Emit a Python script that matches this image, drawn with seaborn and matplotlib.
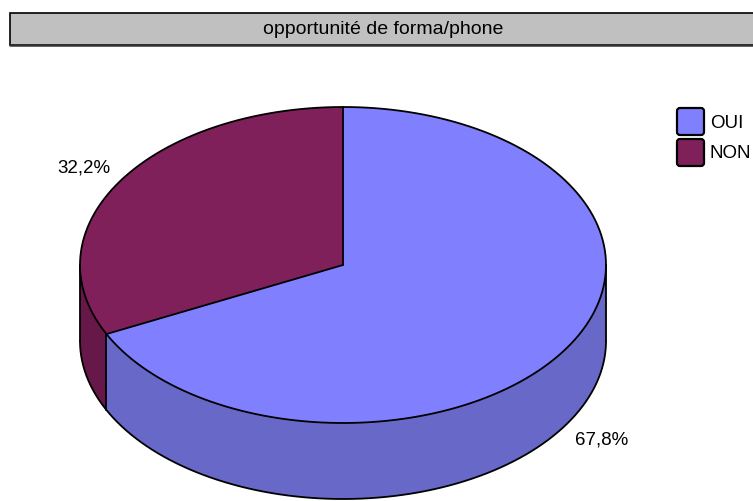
import numpy as np
import matplotlib
matplotlib.use("Agg")
import matplotlib.pyplot as plt
from matplotlib.patches import Polygon, Rectangle, FancyBboxPatch
import seaborn as sns

# donnees
title = "opportunité de forma/phone"
categories = ["OUI", "NON"]
shares = [67.8, 32.2]
labels = ["67,8%", "32,2%"]
top_colors = ["#8080ff", "#80205a"]
side_colors = ["#6868c8", "#661848"]

sns.set_style("white")
plt.rcParams["font.family"] = ["Liberation Sans", "DejaVu Sans"]
plt.rcParams["text.color"] = "black"

W, H = 753, 502
fig = plt.figure(figsize=(W / 100, H / 100), dpi=100)
ax = fig.add_axes([0, 0, 1, 1])
ax.set_xlim(0, W)
ax.set_ylim(H, 0)
ax.axis("off")

# geometrie du camembert 3D (en pixels)
cx, cy, rx, ry, depth = 343, 266, 263, 158, 76
lw = 1.3


def arc(t0, t1, dy=0, n=200):
    t = np.radians(np.linspace(t0, t1, n))
    return np.column_stack([cx + rx * np.cos(t), cy - ry * np.sin(t) + dy])


# angles des parts : NON part de 12h vers la gauche, puis OUI
bounds = {}
start = 90.0
for cat, s in zip(["NON", "OUI"], [shares[1], shares[0]]):
    bounds[cat] = (start, start + 3.6 * s)
    start += 3.6 * s

# faces laterales (moitie avant, 180-360)
for cat in ["NON", "OUI"]:
    a0, a1 = bounds[cat]
    i = categories.index(cat)
    lo, hi = max(a0, 180), min(a1, 360)
    if hi > lo:
        top = arc(lo, hi)
        bot = arc(hi, lo, dy=depth)
        ax.add_patch(Polygon(np.vstack([top, bot]), closed=True,
                             facecolor=side_colors[i], edgecolor="none"))

# faces superieures
for cat in ["NON", "OUI"]:
    a0, a1 = bounds[cat]
    i = categories.index(cat)
    pts = np.vstack([[cx, cy], arc(a0, a1)])
    ax.add_patch(Polygon(pts, closed=True, facecolor=top_colors[i],
                         edgecolor="none"))

# contours
e = arc(0, 360, n=400)
ax.plot(e[:, 0], e[:, 1], color="black", lw=lw)
b = arc(180, 360, dy=depth)
ax.plot(b[:, 0], b[:, 1], color="black", lw=lw)
for t in [180, 360]:
    p = arc(t, t, n=1)[0]
    ax.plot([p[0], p[0]], [p[1], p[1] + depth], color="black", lw=lw)
for cat in ["NON", "OUI"]:
    a0, a1 = bounds[cat]
    p = arc(a0, a0, n=1)[0]
    ax.plot([cx, p[0]], [cy, p[1]], color="black", lw=lw)
    t = a0 % 360
    if 180 < t < 360:
        ax.plot([p[0], p[0]], [p[1], p[1] + depth], color="black", lw=lw)

# etiquettes de pourcentage
for cat in ["NON", "OUI"]:
    a0, a1 = bounds[cat]
    i = categories.index(cat)
    m = np.radians((a0 + a1) / 2)
    x = cx + 1.16 * rx * np.cos(m)
    y = cy - 1.17 * ry * np.sin(m)
    if np.sin(m) < 0:
        y += depth
    ax.text(x, y, labels[i], ha="center", va="center", fontsize=13.5,
            color="black")

# bandeau de titre
ax.add_patch(Rectangle((10, 14), 760, 32, facecolor="#c0c0c0",
                       edgecolor="black", lw=1.2, clip_on=False))
ax.plot([10, 760], [46, 46], color="#333333", lw=1.8)
ax.text(383, 30, title, ha="center", va="center", fontsize=14,
        color="black")

# legende
for i, cat in enumerate(categories):
    y0 = 109 + 31 * i
    ax.add_patch(FancyBboxPatch((677, y0), 27, 27,
                                boxstyle="round,pad=0,rounding_size=3",
                                facecolor=top_colors[i], edgecolor="black",
                                lw=1.6))
    ax.text(710, y0 + 14, cat, ha="left", va="center", fontsize=13.5,
            color="black")

fig.savefig("out.png", dpi=100)
